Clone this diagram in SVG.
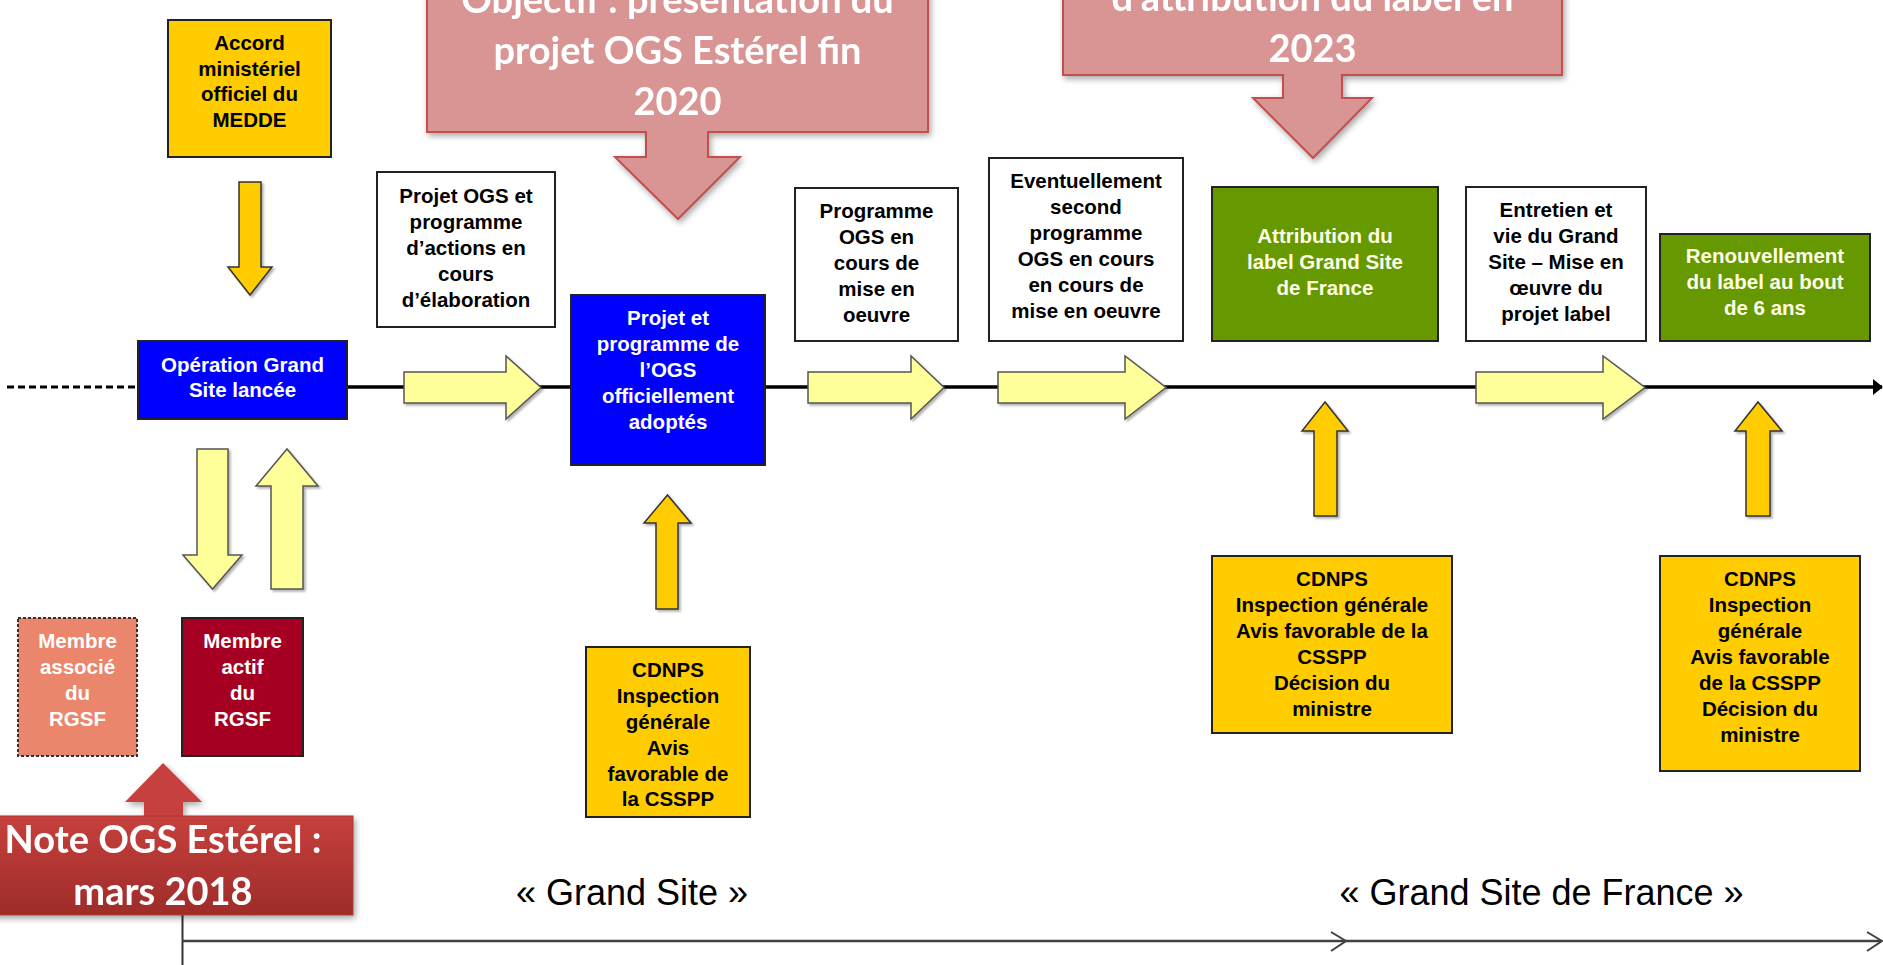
<svg xmlns="http://www.w3.org/2000/svg" width="1883" height="965" viewBox="0 0 1883 965">
<defs>
<style>
.bx{stroke:#222;stroke-width:2}
.t{font-family:"Liberation Sans",Arial,sans-serif;font-weight:bold;font-size:20.5px;text-anchor:middle;fill:#000}
.tw{fill:#fff}
.tg{fill:#FFFFE8}
.co{font-family:Lato,"Open Sans",sans-serif;font-weight:bold;font-size:38px;text-anchor:middle;fill:#fff}
.big{font-family:"Liberation Sans",Arial,sans-serif;font-size:36px;text-anchor:middle;fill:#000}
.ly{fill:#FFFF99;stroke:#555;stroke-width:1.5}
.oy{fill:#FFCC00;stroke:#333;stroke-width:1.5}
.pk{fill:#D99594;stroke:#C0504D;stroke-width:2}
</style>
<filter id="sh" x="-20%" y="-20%" width="140%" height="140%">
<feDropShadow dx="2" dy="3" stdDeviation="3" flood-color="#000" flood-opacity="0.35"/>
</filter>
<filter id="sh2" x="-20%" y="-20%" width="140%" height="140%">
<feDropShadow dx="2" dy="2" stdDeviation="1" flood-color="#000" flood-opacity="0.3"/>
</filter>
<linearGradient id="rg" x1="0" y1="0" x2="0" y2="1">
<stop offset="0" stop-color="#C6403C"/>
<stop offset="1" stop-color="#9E2C2A"/>
</linearGradient>
<marker id="ah" markerWidth="10" markerHeight="16" refX="9" refY="8" orient="auto" markerUnits="userSpaceOnUse">
<path d="M0,0 L10,8 L0,16 Z" fill="#000"/>
</marker>
</defs>

<g id="connectors">
<line x1="7" y1="387" x2="136" y2="387" stroke="#000" stroke-width="3" stroke-dasharray="7 4"/>
<line x1="347" y1="387" x2="1882" y2="387" stroke="#000" stroke-width="3.5" marker-end="url(#ah)"/>
<g filter="url(#sh2)">
<path class="ly" d="M404,372 H506 V356 L541,387.5 L506,419 V403 H404 Z"/>
<path class="ly" d="M808,372 H911 V356 L944,387.5 L911,419 V403 H808 Z"/>
<path class="ly" d="M998,372 H1125 V356 L1166,387.5 L1125,419 V403 H998 Z"/>
<path class="ly" d="M1476,372 H1603 V356 L1645,387.5 L1603,419 V403 H1476 Z"/>
<path class="ly" d="M197,449 H228 V555 H242 L212.5,589 L183,555 H197 Z"/>
<path class="ly" d="M271,589 H303 V486 H318 L287,449 L256,486 H271 Z"/>
<path class="oy" d="M239,182 H261 V267 H272 L250,295 L228,267 H239 Z"/>
<path class="oy" d="M656,609 H678 V523 H691 L667.5,495 L644,523 H656 Z"/>
<path class="oy" d="M1314,516 H1337 V431 H1348 L1325,402 L1302,431 H1314 Z"/>
<path class="oy" d="M1746,516 H1770 V431 H1782 L1758,402 L1735,431 H1746 Z"/>
</g>
<line x1="182.5" y1="915" x2="182.5" y2="965" stroke="#333" stroke-width="2"/>
<line x1="182" y1="941" x2="1881" y2="941" stroke="#404040" stroke-width="2.5"/>
<polyline points="1331,932 1346,941 1331,951" fill="none" stroke="#404040" stroke-width="2"/>
<polyline points="1867,932 1882,941 1867,951" fill="none" stroke="#404040" stroke-width="2"/>
</g>

<g id="accord">
<rect class="bx" x="168" y="20" width="163" height="137" fill="#FFCC00"/>
<text class="t" x="249.5"><tspan x="249.5" y="50">Accord</tspan><tspan x="249.5" y="75.5">ministériel</tspan><tspan x="249.5" y="101">officiel du</tspan><tspan x="249.5" y="127">MEDDE</tspan></text>
</g>

<g id="operation">
<rect class="bx" x="138" y="341" width="209" height="78" fill="#0000FF"/>
<text class="t tw"><tspan x="242.5" y="372">Opération Grand</tspan><tspan x="242.5" y="397">Site lancée</tspan></text>
</g>

<g id="projet-elaboration">
<rect class="bx" x="377" y="172" width="178" height="155" fill="#fff"/>
<text class="t"><tspan x="466" y="203">Projet OGS et</tspan><tspan x="466" y="229">programme</tspan><tspan x="466" y="255">d’actions en</tspan><tspan x="466" y="281">cours</tspan><tspan x="466" y="307">d’élaboration</tspan></text>
</g>

<g id="projet-adopte">
<rect class="bx" x="571" y="295" width="194" height="170" fill="#0000FF"/>
<text class="t tw"><tspan x="668" y="325">Projet et</tspan><tspan x="668" y="351">programme de</tspan><tspan x="668" y="377">l’OGS</tspan><tspan x="668" y="403">officiellement</tspan><tspan x="668" y="429">adoptés</tspan></text>
</g>

<g id="programme-ogs">
<rect class="bx" x="795" y="188" width="163" height="153" fill="#fff"/>
<text class="t"><tspan x="876.5" y="218">Programme</tspan><tspan x="876.5" y="244">OGS en</tspan><tspan x="876.5" y="270">cours de</tspan><tspan x="876.5" y="296">mise en</tspan><tspan x="876.5" y="322">oeuvre</tspan></text>
</g>

<g id="eventuellement">
<rect class="bx" x="989" y="158" width="194" height="183" fill="#fff"/>
<text class="t"><tspan x="1086" y="188">Eventuellement</tspan><tspan x="1086" y="214">second</tspan><tspan x="1086" y="240">programme</tspan><tspan x="1086" y="266">OGS en cours</tspan><tspan x="1086" y="292">en cours de</tspan><tspan x="1086" y="318">mise en oeuvre</tspan></text>
</g>

<g id="attribution">
<rect class="bx" x="1212" y="187" width="226" height="154" fill="#669900"/>
<text class="t tg"><tspan x="1325" y="243">Attribution du</tspan><tspan x="1325" y="269">label Grand Site</tspan><tspan x="1325" y="295">de France</tspan></text>
</g>

<g id="entretien">
<rect class="bx" x="1466" y="187" width="180" height="154" fill="#fff"/>
<text class="t"><tspan x="1556" y="217">Entretien et</tspan><tspan x="1556" y="243">vie du Grand</tspan><tspan x="1556" y="269">Site – Mise en</tspan><tspan x="1556" y="295">œuvre du</tspan><tspan x="1556" y="321">projet label</tspan></text>
</g>

<g id="renouvellement">
<rect class="bx" x="1660" y="234" width="210" height="107" fill="#669900"/>
<text class="t tg"><tspan x="1765" y="263">Renouvellement</tspan><tspan x="1765" y="289">du label au bout</tspan><tspan x="1765" y="315">de 6 ans</tspan></text>
</g>

<g id="membre-associe">
<rect x="18" y="618" width="119" height="138" fill="#E9866B" stroke="#333" stroke-width="2" stroke-dasharray="3 2"/>
<text class="t tw"><tspan x="77.5" y="648">Membre</tspan><tspan x="77.5" y="674">associé</tspan><tspan x="77.5" y="700">du</tspan><tspan x="77.5" y="726">RGSF</tspan></text>
</g>

<g id="membre-actif">
<rect class="bx" x="182" y="618" width="121" height="138" fill="#A50021"/>
<text class="t tw"><tspan x="242.5" y="648">Membre</tspan><tspan x="242.5" y="674">actif</tspan><tspan x="242.5" y="700">du</tspan><tspan x="242.5" y="726">RGSF</tspan></text>
</g>

<g id="cdnps-1">
<rect class="bx" x="586" y="647" width="164" height="170" fill="#FFCC00"/>
<text class="t"><tspan x="668" y="677">CDNPS</tspan><tspan x="668" y="703">Inspection</tspan><tspan x="668" y="729">générale</tspan><tspan x="668" y="755">Avis</tspan><tspan x="668" y="781">favorable de</tspan><tspan x="668" y="806">la CSSPP</tspan></text>
</g>

<g id="cdnps-2">
<rect class="bx" x="1212" y="556" width="240" height="177" fill="#FFCC00"/>
<text class="t"><tspan x="1332" y="586">CDNPS</tspan><tspan x="1332" y="612">Inspection générale</tspan><tspan x="1332" y="638">Avis favorable de la</tspan><tspan x="1332" y="664">CSSPP</tspan><tspan x="1332" y="690">Décision du</tspan><tspan x="1332" y="716">ministre</tspan></text>
</g>

<g id="cdnps-3">
<rect class="bx" x="1660" y="556" width="200" height="215" fill="#FFCC00"/>
<text class="t"><tspan x="1760" y="586">CDNPS</tspan><tspan x="1760" y="612">Inspection</tspan><tspan x="1760" y="638">générale</tspan><tspan x="1760" y="664">Avis favorable</tspan><tspan x="1760" y="690">de la CSSPP</tspan><tspan x="1760" y="716">Décision du</tspan><tspan x="1760" y="742">ministre</tspan></text>
</g>

<g id="callout-objectif" filter="url(#sh)">
<path class="pk" d="M427,-60 H928 V132 H708 V157 H740 L678,219 L615,157 H646 V132 H427 Z"/>
<text class="co"><tspan x="677.5" y="13">Objectif : présentation du</tspan><tspan x="677.5" y="64">projet OGS Estérel fin</tspan><tspan x="677.5" y="115">2020</tspan></text>
</g>

<g id="callout-label" filter="url(#sh)">
<path class="pk" d="M1063,-60 H1562 V75 H1342 V98 H1372 L1313,158 L1253,98 H1283 V75 H1063 Z"/>
<text class="co"><tspan x="1312.5" y="11">d’attribution du label en</tspan><tspan x="1312.5" y="62">2023</tspan></text>
</g>

<g id="callout-note" filter="url(#sh)">
<path d="M144,816 V802 H125 L163,763 L202,802 H183 V816 Z" fill="#C8413D"/>
<rect x="-27" y="816" width="380" height="99" fill="url(#rg)" stroke="#B03535" stroke-width="1"/>
<text class="co"><tspan x="163" y="853">Note OGS Estérel :</tspan><tspan x="163" y="905">mars 2018</tspan></text>
</g>

<g id="labels">
<text class="big" x="632" y="905">« Grand Site »</text>
<text class="big" x="1541.5" y="905">« Grand Site de France »</text>
</g>
</svg>
